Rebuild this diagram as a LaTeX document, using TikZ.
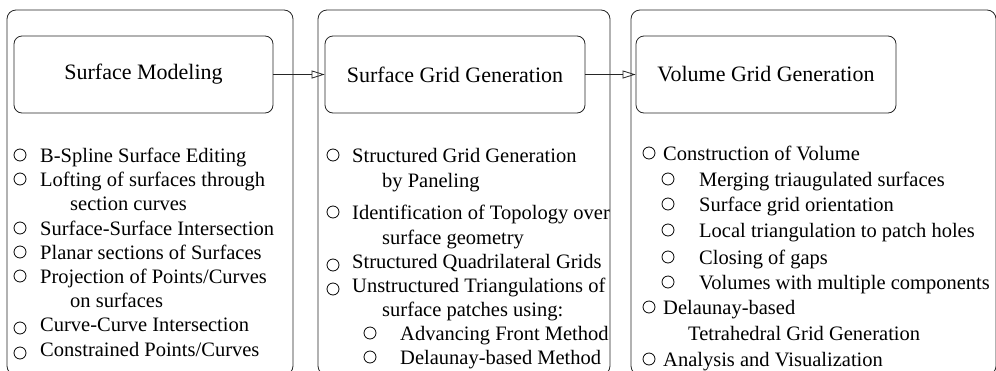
\documentclass[tikz,border=0pt]{standalone}
\usepackage{fontspec}
\setmainfont{Liberation Serif}
\usetikzlibrary{arrows.meta}
\begin{document}
\begin{tikzpicture}[x=1pt,y=-1pt,
  panel/.style={draw=black!85, line width=0.8pt, rounded corners=9pt},
  head/.style={draw=black!85, line width=0.8pt, rounded corners=8pt,
    font=\fontsize{22}{26}\selectfont, inner sep=0pt},
  item/.style={anchor=base west, inner sep=0pt, font=\fontsize{20.5}{24}\selectfont},
  dot/.style={draw=black, line width=0.8pt},
  flow/.style={draw=black!85, line width=0.8pt,
    -{Triangle[open,length=13pt,width=8pt]}}
]
\clip (0,0) rectangle (996,370);

% outer panels (their lower edges run just past the page)
\draw[panel] (7,10) rectangle (293,375);
\draw[panel] (318,10) rectangle (610,375);
\draw[panel] (631,10) rectangle (996,375);

% stage headers
\node[head, minimum width=259pt, minimum height=77pt] (sm) at (143.5,74.5) {Surface Modeling};
\node[head, minimum width=260pt, minimum height=77pt] (sg) at (455,74.5) {Surface Grid Generation};
\node[head, minimum width=260pt, minimum height=77pt] (vg) at (766,74.5) {Volume Grid Generation};

\draw[flow] (sm.east) -- (sg.west);
\draw[flow] (sg.east) -- (vg.west);

% --- Surface Modeling items
\foreach \y in {155,179,228,252,276} \draw[dot] (20,\y) circle[radius=6];
\foreach \y in {328,353} \draw[dot] (20,\y) circle[radius=6];
\node[item] (a1) at (40,162) {B-Spline Surface Editing};
\node[item] (a2) at (40,186) {Lofting of surfaces through};
\node[item] (a3) at (70,210) {section curves};
\node[item] (a4) at (40,235) {Surface-Surface Intersection};
\node[item] (a5) at (40,259) {Planar sections of Surfaces};
\node[item] (a6) at (40,283) {Projection of Points/Curves};
\node[item] (a7) at (70,307) {on surfaces};
\node[item] (a8) at (40,331) {Curve-Curve Intersection};
\node[item] (a9) at (40,356) {Constrained Points/Curves};

% --- Surface Grid Generation items
\foreach \y in {155,212} \draw[dot] (333,\y) circle[radius=6];
\foreach \y in {265,289} \draw[dot] (333,\y) circle[radius=6];
\foreach \y in {333,357} \draw[dot] (370,\y) circle[radius=6];
\node[item] (b1) at (352,162) {Structured Grid Generation};
\node[item] (b2) at (382,187) {by Paneling};
\node[item] (b3) at (352,219) {Identification of Topology over};
\node[item] (b4) at (382,244) {surface geometry};
\node[item] (b5) at (352,268) {Structured Quadrilateral Grids};
\node[item] (b6) at (352,292) {Unstructured Triangulations of};
\node[item] (b7) at (382,316) {surface patches using:};
\node[item] (b8) at (400,340) {Advancing Front Method};
\node[item] (b9) at (400,364) {Delaunay-based Method};

% --- Volume Grid Generation items
\foreach \y in {153,307,359} \draw[dot] (649,\y) circle[radius=6];
\foreach \y in {179,204,230,257,282} \draw[dot] (668,\y) circle[radius=6];
\node[item] (c1) at (663,160) {Construction of Volume};
\node[item] (c2) at (699,186) {Merging triaugulated surfaces};
\node[item] (c3) at (699,211) {Surface grid orientation};
\node[item] (c4) at (699,237) {Local triangulation to patch holes};
\node[item] (c5) at (699,264) {Closing of gaps};
\node[item] (c6) at (699,289) {Volumes with multiple components};
\node[item] (c7) at (663,314) {Delaunay-based};
\node[item] (c8) at (688,340) {Tetrahedral Grid Generation};
\node[item] (c9) at (663,366) {Analysis and Visualization};
\end{tikzpicture}
\end{document}
